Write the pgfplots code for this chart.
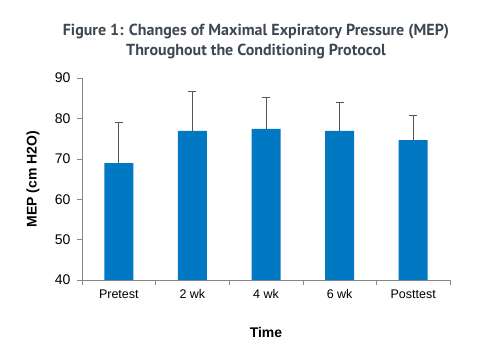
\documentclass[border=0pt]{standalone}
\usepackage{pgfplots}
\pgfplotsset{compat=1.18}
\usepackage{fontspec}
\setmainfont{Liberation Sans}
\newfontfamily\titlefont{PT Sans}
\definecolor{barblue}{RGB}{0,120,194}
\definecolor{titlegray}{RGB}{62,72,82}
\definecolor{axgray}{RGB}{135,135,135}
\definecolor{errgray}{RGB}{85,85,85}
\begin{document}
\begin{tikzpicture}
\useasboundingbox (-82pt,-76pt) rectangle (399pt,280pt);
\begin{axis}[
  at={(0,0)}, anchor=south west,
  scale only axis, width=368pt, height=202pt,
  xmin=-0.5, xmax=4.5, ymin=40, ymax=90,
  ytick={40,50,...,90},
  xtick={0,1,2,3,4},
  xticklabels={Pretest,2 wk,4 wk,6 wk,Posttest},
  minor xtick={-0.5,0.5,1.5,2.5,3.5,4.5},
  major x tick style={draw=none},
  tick align=outside,
  major tick length=5pt, minor tick length=5pt,
  tick style={axgray, line width=0.6pt},
  axis x line*=bottom, axis y line*=left,
  axis line style={axgray, line width=0.6pt, -},
  /pgf/number format/assume math mode=true,
  xticklabel style={font=\fontsize{12.5}{14}\selectfont, text=black, yshift=-1pt},
  yticklabel style={font=\fontsize{14}{16}\selectfont, text=black, xshift=-3pt},
  ylabel={\textbf{MEP (cm H2O)}},
  every axis y label/.style={at={(axis description cs:0,0.5)}, rotate=90, anchor=center, yshift=49pt, font=\fontsize{14}{16}\selectfont},
  xlabel={\textbf{Time}},
  every axis x label/.style={at={(axis description cs:0.5,0)}, anchor=center, yshift=-52pt, font=\fontsize{14}{16}\selectfont},
  ybar, bar width=29pt,
  error bars/y dir=plus, error bars/y explicit,
  error bars/error bar style={errgray, line width=0.8pt},
  error bars/error mark options={rotate=90, mark size=4pt, errgray, line width=0.8pt},
]
\addplot[fill=barblue, draw=none] coordinates {
  (0,68.9) +- (0,10.0)
  (1,76.9) +- (0,9.9)
  (2,77.4) +- (0,7.9)
  (3,76.9) +- (0,7.1)
  (4,74.6) +- (0,6.1)
};
\end{axis}
\node[font=\titlefont\bfseries\fontsize{16}{20}\selectfont, text=titlegray, align=center] at (174pt,239pt)
  {Figure 1: Changes of Maximal Expiratory Pressure (MEP)\\Throughout the Conditioning Protocol};
\end{tikzpicture}
\end{document}
